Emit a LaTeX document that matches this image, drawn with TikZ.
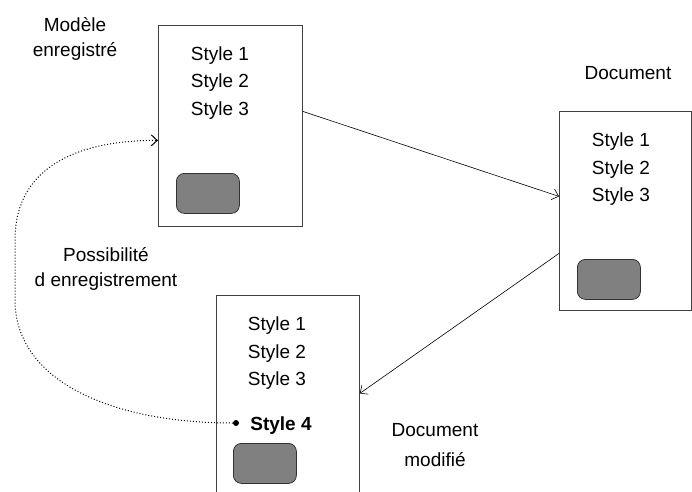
\documentclass[tikz,border=0pt]{standalone}
\usepackage{fontspec}
\setmainfont{Liberation Sans}
\usetikzlibrary{arrows.meta}
\begin{document}
\begin{tikzpicture}[x=1pt,y=-1pt,
  doc/.style={draw=black!75,line width=0.8pt,rectangle,anchor=north west,inner sep=0pt},
  pad/.style={draw=black!80,fill=black!50,rounded corners=8pt,line width=0.8pt,anchor=north west,inner sep=0pt,minimum width=63pt,minimum height=40pt},
  lbl/.style={font=\fontsize{19}{27.5}\selectfont,align=center,inner sep=0pt},
  conn/.style={line width=0.6pt,-{Straight Barb[length=6pt,width=11pt]}},
  dots/.style={line width=1pt,dash pattern=on 1pt off 2pt,-{Straight Barb[length=6pt,width=11pt]}}]
\useasboundingbox (0,0) rectangle (692,491);
% boxes
\node[doc,minimum width=144pt,minimum height=201pt] (A) at (158,25) {};
\node[doc,minimum width=132pt,minimum height=199pt] (B) at (559,111) {};
\node[doc,minimum width=143pt,minimum height=205pt] (C) at (216,295) {};
% pads
\node[pad] (pA) at (176,173) {};
\node[pad] (pB) at (577,259) {};
\node[pad] (pC) at (233,443) {};
% style texts
\node[lbl] (tA) at (220,83) {Style 1\\Style 2\\Style 3};
\node[lbl] (tB) at (621,169.5) {Style 1\\Style 2\\Style 3};
\node[lbl] (tC) at (277,353.5) {Style 1\\Style 2\\Style 3};
\node[lbl,font=\fontsize{19}{27.5}\selectfont\bfseries] (s4) at (281,426) {Style 4};
\node[circle,fill=black,inner sep=0pt,minimum size=6pt] (dot) at (236,423) {};
% captions
\node[lbl,font=\fontsize{19}{24.5}\selectfont] (cA) at (75,39) {Modèle\\enregistré};
\node[lbl] (cB) at (628,73) {Document};
\node[lbl,font=\fontsize{19}{29.5}\selectfont] (cC) at (435,445) {Document\\modifié};
\node[lbl,font=\fontsize{19}{25.5}\selectfont] (cD) at (106,269) {Possibilité\\d enregistrement};
% connectors
\draw[conn] ([yshift=14.5pt]A.east) -- ([yshift=14.5pt]B.west);
\draw[conn] ([yshift=-42.5pt]B.west) -- ([yshift=4.5pt]C.east);
\draw[dots] (dot.west) .. controls (110,423) and (15,380) .. (15,300)
  -- (15,240) .. controls (15,160) and (90,140) .. ([yshift=-14.5pt]A.west);
\end{tikzpicture}
\end{document}
